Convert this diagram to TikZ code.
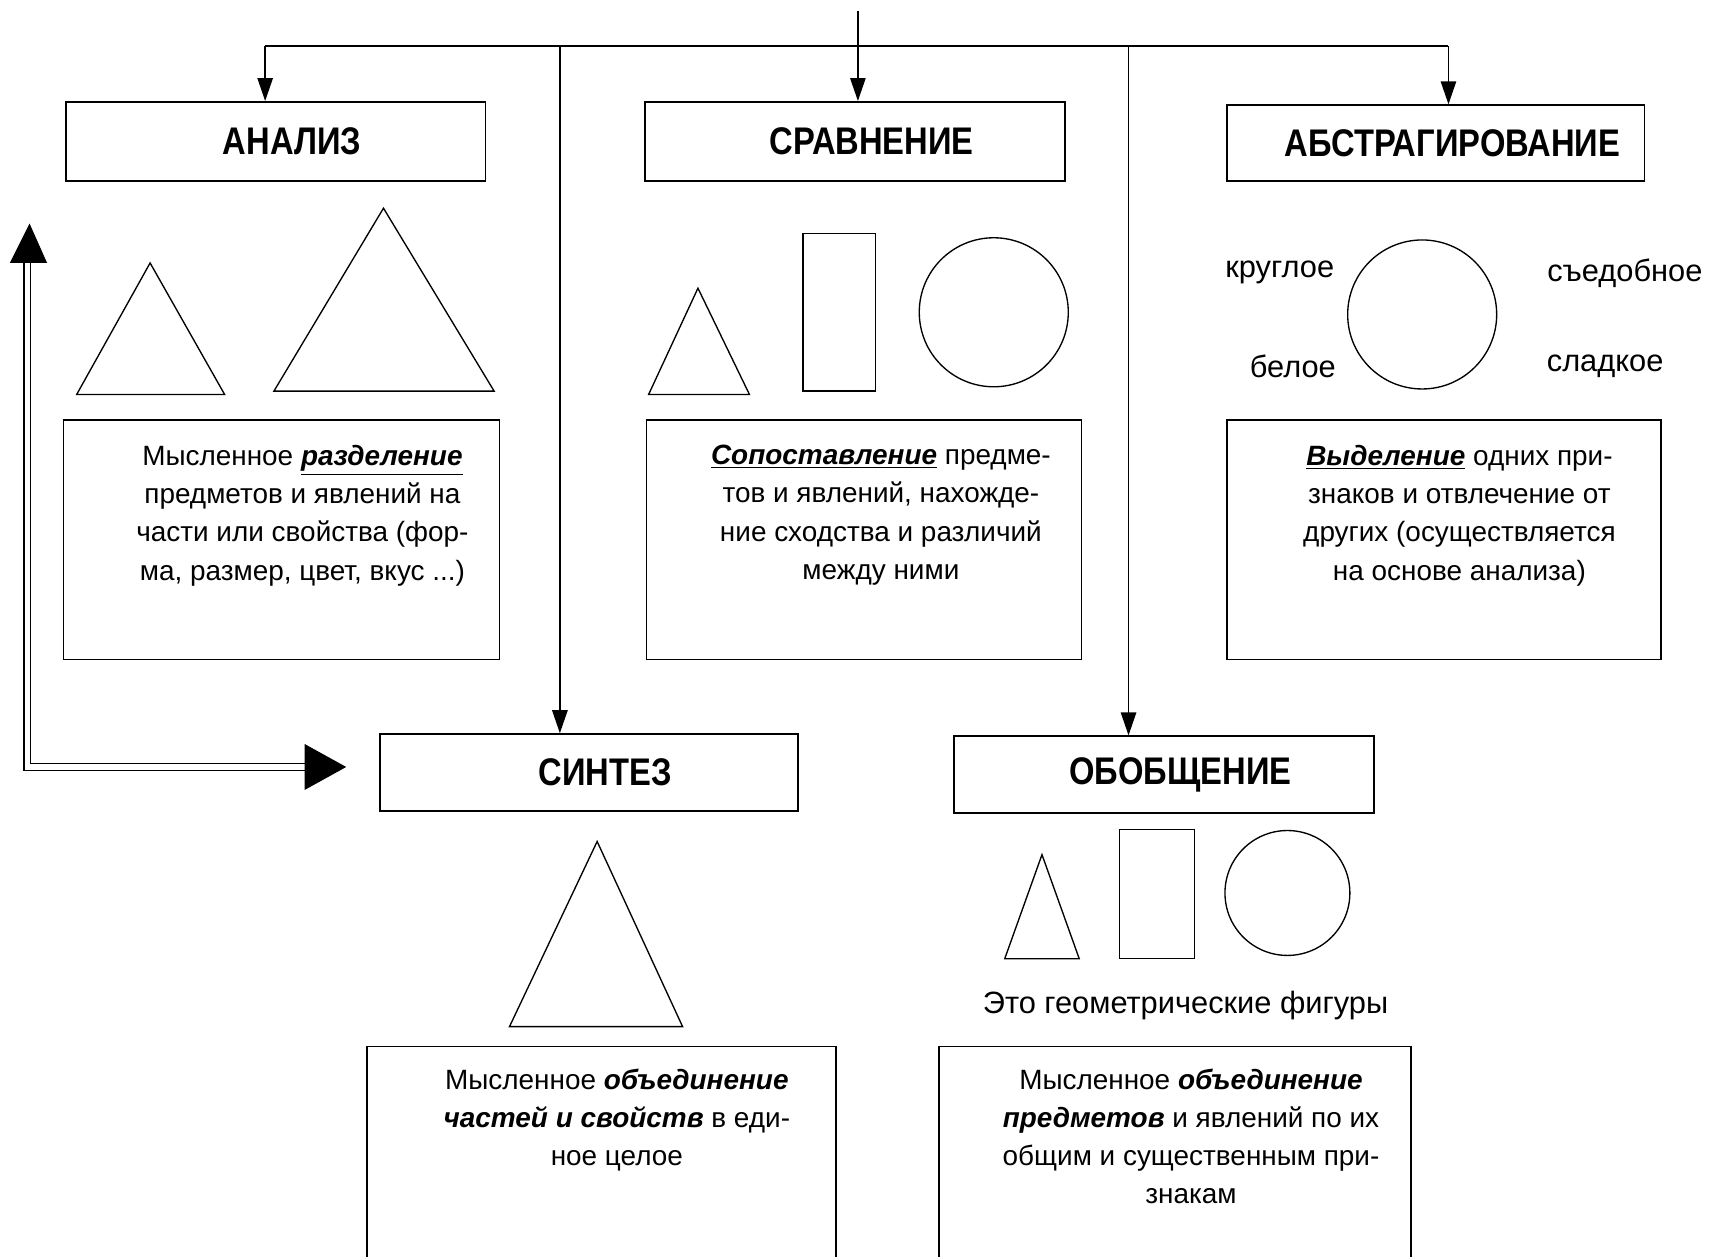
\documentclass[tikz,border=0pt]{standalone}
\usepackage{fontspec}
\setmainfont{Liberation Sans}
\newfontfamily\headfont[FakeStretch=0.85]{Liberation Sans}
\usetikzlibrary{arrows.meta}
\tikzset{
	title box/.style={draw=black, line width=0.9pt, inner sep=0pt, font=\headfont\bfseries\fontsize{20}{24}\selectfont, execute at begin node={\hspace*{6mm}}},
	text box/.style={draw=black, line width=0.9pt, inner sep=0pt},
	body text/.style={align=center, inner sep=0pt, anchor=north, font=\fontsize{14.5}{19.84}\selectfont},
	fig label/.style={inner sep=0pt, font=\fontsize{16}{19}\selectfont},
	arr/.style={line width=0.9pt, -{Triangle[width=2.8mm,length=4.2mm]}},
	shape line/.style={line width=0.7pt},
	dbl line/.style={double, double distance=1mm, line width=0.6pt},
}
\newcommand{\kwu}[1]{\underline{\textbf{\textit{#1}}}}
\newcommand{\kwb}[1]{\textbf{\textit{#1}}}

\begin{document}
\begin{tikzpicture}[x=0.2mm, y=-0.2mm]
	\useasboundingbox (0,0) rectangle (1568,1147);
	\clip (0,0) rectangle (1568,1147);
	\node[title box, minimum width=76.6mm, minimum height=14.4mm] (analiz) at (251.5,129) {АНАЛИЗ};
	\node[title box, minimum width=76.6mm, minimum height=14.4mm] (sravn) at (780.5,129) {СРАВНЕНИЕ};
	\node[title box, minimum width=76.2mm, minimum height=13.8mm] (abstr) at (1310.5,130.5) {АБСТРАГИРОВАНИЕ};
	\node[title box, minimum width=76.2mm, minimum height=14mm] (sintez) at (537.5,705) {СИНТЕЗ};
	\node[title box, minimum width=76.6mm, minimum height=14mm] (obobsch) at (1062.5,707) {ОБОБЩЕНИЕ};
	\node[text box, minimum width=79.6mm, minimum height=43.8mm] (analizbox) at (257,492.5) {};
	\node[text box, minimum width=79.4mm, minimum height=43.8mm] (sravnbox) at (788.5,492.5) {};
	\node[text box, minimum width=79.2mm, minimum height=43.8mm] (abstrbox) at (1318,492.5) {};
	\node[text box, minimum width=85.6mm, minimum height=42mm] (sintezbox) at (549,1060) {};
	\node[text box, minimum width=86.2mm, minimum height=42mm] (obobschbox) at (1072.5,1060) {};
	\node[body text] (analiztext) at (276,406) {Мысленное \kwu{разделение}\\предметов и явлений на\\части или свойства (фор-\\ма, размер, цвет, вкус ...)};
	\node[body text] (sravntext) at (804,406) {\kwu{Сопоставление} предме-\\тов и явлений, нахожде-\\ние сходства и различий\\между ними};
	\node[body text] (abstrtext) at (1332,406) {\kwu{Выделение} одних при-\\знаков и отвлечение от\\других (осуществляется\\на основе анализа)};
	\node[body text] (sinteztext) at (563,975) {Мысленное \kwb{объединение}\\\kwb{частей и свойств} в еди-\\ное целое};
	\node[body text] (obobschtext) at (1087,975) {Мысленное \kwb{объединение}\\\kwb{предметов} и явлений по их\\общим и существенным при-\\знакам};
	\coordinate (src) at (783,10);
	\coordinate (barL) at (242,42);
	\coordinate (barR) at (1322,42);
	\coordinate (toSin) at (511,42);
	\coordinate (toObo) at (1030,42);
	\draw[line width=0.9pt] (src) -- (src |- barL);
	\draw[line width=0.9pt] (barL) -- (barR);
	\draw[arr] (barL) -- (barL |- analiz.north);
	\draw[arr] (src |- barL) -- (src |- sravn.north);
	\draw[arr] (barR) -- (barR |- abstr.north);
	\draw[arr] (toSin) -- (toSin |- sintez.north);
	\draw[arr] (toObo) -- (toObo |- obobsch.north);
	\coordinate (dblTop) at (25,240);
	\coordinate (dblEnd) at (278,700);
	\draw[dbl line] (dblTop) |- (dblEnd);
	\fill (dblTop) ++(-16,0) -- ++(34,0) -- ++(-16,-36) -- cycle;
	\fill (dblEnd) ++(0,-21) -- ++(0,42) -- ++(38,-21) -- cycle;
	\draw[shape line] (137,240) -- (205,360) -- (70,360) -- cycle;
	\draw[shape line] (350,190) -- (451,357) -- (250,357) -- cycle;
	\draw[shape line] (637,263) -- (684,360) -- (592,360) -- cycle;
	\draw[shape line] (733,213) rectangle (799,357);
	\draw[shape line] (907,285) circle[radius=68];
	\draw[shape line] (1298,287) circle[radius=68];
	\node[fig label] (kruglo) at (1168,249) {круглое};
	\node[fig label] (sedob) at (1483,249) {съедобное};
	\node[fig label] (beloe) at (1180,334) {белое};
	\node[fig label] (sladk) at (1465,334) {сладкое};
	\draw[shape line] (545,768) -- (623,937) -- (465,937) -- cycle;
	\draw[shape line] (951,780) -- (985,875) -- (917,875) -- cycle;
	\draw[shape line] (1022,757) rectangle (1090,875);
	\draw[shape line] (1175,815) circle[radius=57];
	\node[fig label] (geomfig) at (1082,918) {Это геометрические фигуры};
\end{tikzpicture}
\end{document}
